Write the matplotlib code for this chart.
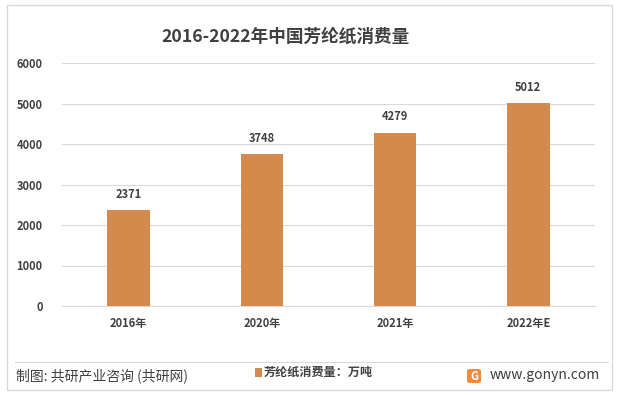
import matplotlib.pyplot as plt
from matplotlib.patches import Rectangle, FancyBboxPatch
import numpy as np

plt.rcParams['font.family'] = ['Noto Sans CJK SC', 'DejaVu Sans']

categories = ['2016年', '2020年', '2021年', '2022年E']
values = [2371, 3748, 4279, 5012]
yticks = [0, 1000, 2000, 3000, 4000, 5000, 6000]

BAR = '#D48A4C'
TXT = '#404040'

fig = plt.figure(figsize=(6.17, 3.95), dpi=100)
fig.patch.set_facecolor('white')

# outer border
fig.add_artist(Rectangle((7/617, 5/395), 605/617, 385/395, transform=fig.transFigure,
                         fill=False, edgecolor='#D9D9D9', linewidth=1.0))

ax = fig.add_axes([62/617, 1 - 306/395, 533/617, 243/395])
x = np.arange(len(categories))
ax.bar(x, values, 0.32, color=BAR, zorder=3)
for i, v in enumerate(values):
    ax.text(i, v + 230, str(v), ha='center', va='bottom', fontsize=8,
            fontweight='bold', color=TXT)

ax.set_xlim(-0.5, len(categories) - 0.5)
ax.set_ylim(0, 6000)
ax.set_yticks(yticks)
ax.set_yticklabels([str(t) for t in yticks], fontsize=8, color=TXT, fontweight='bold')
ax.set_xticks(x)
ax.set_xticklabels(categories, fontsize=8, color=TXT, fontweight='bold')
ax.tick_params(length=0, pad=8)
ax.tick_params(axis='y', pad=14)
ax.grid(axis='y', color='#D9D9D9', linewidth=0.8, zorder=0)
for s in ['top', 'right', 'left']:
    ax.spines[s].set_visible(False)
ax.spines['bottom'].set_color('#D9D9D9')

fig.text(286/617, 1 - 37/395, '2016-2022年中国芳纶纸消费量', ha='center', va='center',
         fontsize=12.7, fontweight='bold', color=TXT)

# separator line
fig.add_artist(plt.Line2D([15/617, 608/617], [1 - 362/395, 1 - 362/395],
                          transform=fig.transFigure, color='#D9D9D9', linewidth=0.8))

fig.text(16/617, 1 - 376/395, '制图: 共研产业咨询 (共研网)', ha='left', va='center',
         fontsize=10, color=TXT)

# legend
fig.add_artist(Rectangle((255/617, 1 - 377/395), 7/617, 9/395, transform=fig.transFigure,
                         facecolor=BAR, edgecolor='none'))
fig.text(264/617, 1 - 372/395, '芳纶纸消费量：万吨', ha='left', va='center',
         fontsize=8.7, color=TXT, fontweight='bold')

# logo + site
fig.add_artist(FancyBboxPatch((467/617, 1 - 383/395), 14/617, 14/395,
                              boxstyle='round,pad=0,rounding_size=0.005',
                              transform=fig.transFigure, facecolor='#F08A3C',
                              edgecolor='none'))
fig.text(474/617, 1 - 376/395, 'G', ha='center', va='center', fontsize=8,
         fontweight='bold', color='white')
fig.text(490/617, 1 - 375/395, 'www.gonyn.com', ha='left', va='center',
         fontsize=10, color=TXT)

fig.savefig('out.png', dpi=100)
